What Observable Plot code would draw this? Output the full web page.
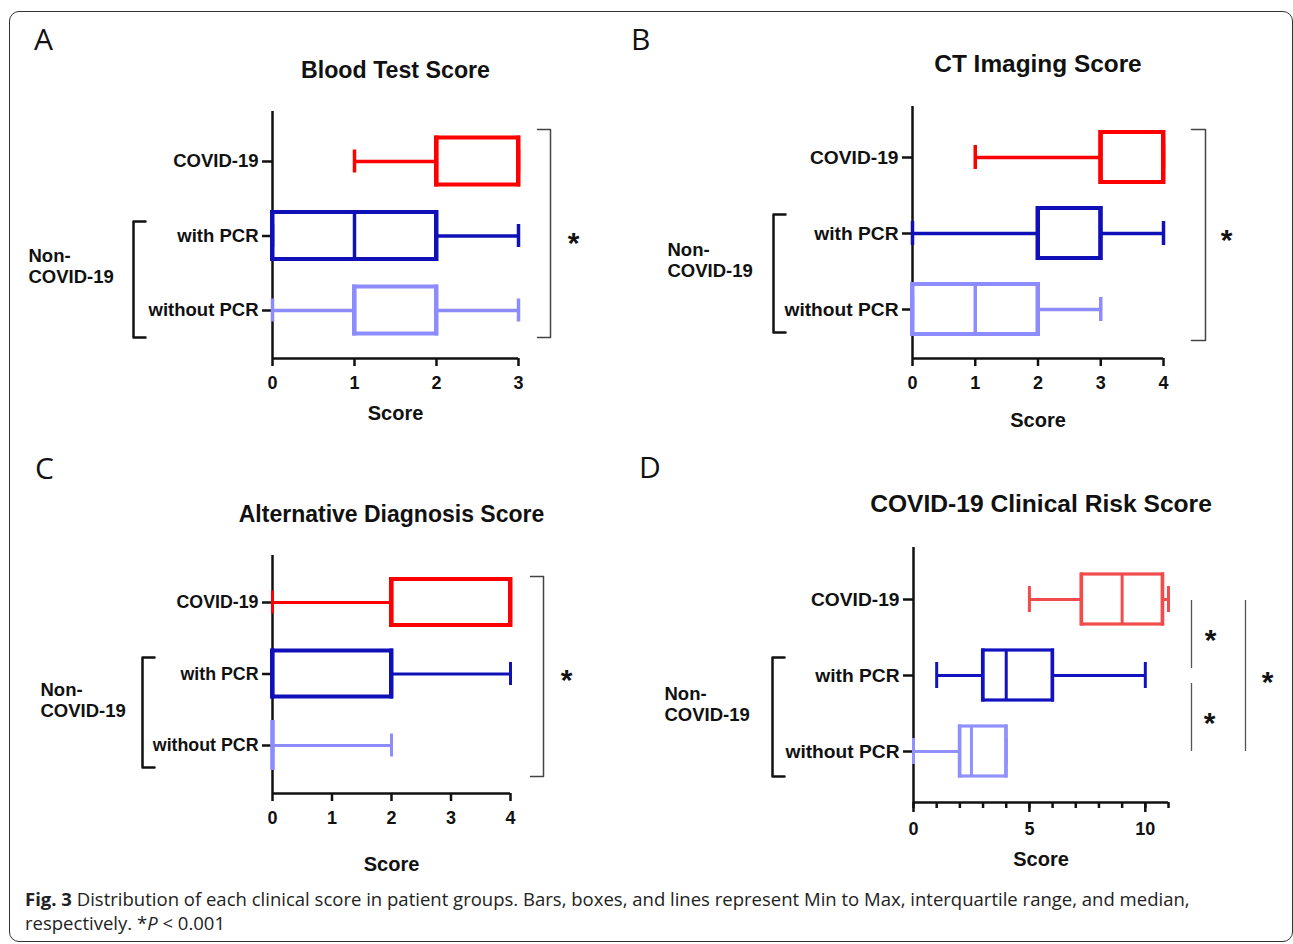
<!DOCTYPE html>
<html>
<head>
<meta charset="utf-8">
<script src="https://cdn.jsdelivr.net/npm/d3@7"></script>
<script src="https://cdn.jsdelivr.net/npm/@observablehq/plot@0.6"></script>
<style>
  html, body { margin: 0; padding: 0; background: #fff; }
  #page { position: relative; width: 1293px; height: 944px; overflow: hidden; background: #fff; }
  #page svg { position: absolute; left: 0; top: 0; }
  .frame { position: absolute; left: 9px; top: 11px; width: 1284px; height: 931px; border: 1.5px solid #333; border-radius: 10px; box-sizing: border-box; }
  .letter { position: absolute; font-family: "Open Sans", sans-serif; font-size: 30px; line-height: 30px; color: #111; }
  .caption { position: absolute; left: 25px; top: 887px; font-family: "Open Sans", sans-serif; font-size: 17px; line-height: 24px; color: #222; white-space: nowrap; }
  .caption span { display: inline-block; }
</style>
</head>
<body>
<div id="page"><div class="frame"></div></div>
<script>
// ---------------- data ----------------
const groups = ["COVID-19", "with PCR", "without PCR"];
const xLabel = "Score";
const groupLabel = "Non-\nCOVID-19";
const sigMark = "*";
const panelLetters = ["A", "B", "C", "D"];

// A: Blood Test Score
const bloodTitle = "Blood Test Score";
const bloodMin = [1, 0, 0];
const bloodQ1 = [2, 0, 1];
const bloodMedian = [2, 1, 1];
const bloodQ3 = [3, 2, 2];
const bloodMax = [3, 3, 3];
const bloodTicks = [0, 1, 2, 3];

// B: CT Imaging Score
const ctTitle = "CT Imaging Score";
const ctMin = [1, 0, 0];
const ctQ1 = [3, 2, 0];
const ctMedian = [3, 2, 1];
const ctQ3 = [4, 3, 2];
const ctMax = [4, 4, 3];
const ctTicks = [0, 1, 2, 3, 4];

// C: Alternative Diagnosis Score
const altTitle = "Alternative Diagnosis Score";
const altMin = [0, 0, 0];
const altQ1 = [2, 0, 0];
const altMedian = [2, 0, 0];
const altQ3 = [4, 2, 0];
const altMax = [4, 4, 2];
const altTicks = [0, 1, 2, 3, 4];

// D: COVID-19 Clinical Risk Score
const riskTitle = "COVID-19 Clinical Risk Score";
const riskMin = [5, 1, 0];
const riskQ1 = [7.25, 3, 2];
const riskMedian = [9, 4, 2.5];
const riskQ3 = [10.75, 6, 4];
const riskMax = [11, 10, 4];
const riskTicks = [0, 5, 10];
const riskMinorTicks = d3.range(0, 12);

const captionBold = "Fig. 3";
const captionLine1 = " Distribution of each clinical score in patient groups. Bars, boxes, and lines represent Min to Max, interquartile range, and median,";
const captionLine2 = "respectively. *<i>P</i> &lt; 0.001";

// ---------------- styles / layout ----------------
const W = 1293, H = 944;
const FONT = "Liberation Sans, Arial, Helvetica, sans-serif";
const colorsABC = ["#ff0000", "#1010b8", "#8c8cff"];
const colorsD = ["#f24b4b", "#1212c0", "#9090ff"];

const layoutA = {left: 272, right: 518, top: 111, bottom: 358, c: [161, 236, 310],
  boxH: 47, capH: 23, titleY: 70, scoreY: 413, tickSize: 8, tickPad: 10, titleSize: 23.2, labelSize: 18.5,
  lbr: {x: 133, y1: 221, y2: 337, arm: 12}, group: {x: 28, y: 265.5},
  rbr: [{x: 550, y1: 129, y2: 337, arm: -13}], sig: [], stars: [{x: 573, y: 240}],
  w: {box: 4, whisker: 3.5, cap: 3.5, median: 3.5}};
const layoutB = {left: 912, right: 1163, top: 106, bottom: 358, c: [157, 233, 309],
  boxH: 50, capH: 24, titleY: 64, scoreY: 420, tickSize: 8, tickPad: 10, titleSize: 24.4, labelSize: 19.2,
  lbr: {x: 773, y1: 214, y2: 332, arm: 12}, group: {x: 667, y: 259.5},
  rbr: [{x: 1205, y1: 129, y2: 340, arm: -14}], sig: [], stars: [{x: 1226, y: 237}],
  w: {box: 4, whisker: 3.5, cap: 3.5, median: 3.5}};
const layoutC = {left: 272, right: 510, top: 555, bottom: 793, c: [602, 673, 745],
  boxH: 46, capH: 23, titleY: 514, scoreY: 864, tickSize: 8, tickPad: 9.5, titleSize: 23, labelSize: 17.8,
  lbr: {x: 142, y1: 657, y2: 767, arm: 12}, group: {x: 40, y: 699},
  rbr: [{x: 543, y1: 576, y2: 776, arm: -13}], sig: [], stars: [{x: 566, y: 677}],
  w: {box: 4, whisker: 3, cap: 3, median: 3.5}};
const layoutD = {left: 913, right: 1168, top: 547, bottom: 802, c: [599, 675, 751],
  boxH: 50, capH: 26, titleY: 504, scoreY: 859, tickSize: 10, tickPad: 9.5, titleSize: 24.6, labelSize: 19.2,
  lbr: {x: 772, y1: 657, y2: 776, arm: 12}, group: {x: 664, y: 703},
  rbr: [], sig: [{x: 1191, y1: 600, y2: 668}, {x: 1191, y1: 683, y2: 751}, {x: 1245, y1: 600, y2: 751}],
  stars: [{x: 1210, y: 637}, {x: 1209, y: 720}, {x: 1267, y: 679}],
  w: {box: 3.2, whisker: 3, cap: 3, median: 3}};

function panel(cfg) {
  const L = cfg.layout;
  const [d0, d1] = cfg.xDomain;
  const kx = (d1 - d0) / (L.right - L.left);
  const step = (L.c[2] - L.c[0]) / 2;
  const X = v => d0 + (v - L.left) * kx;   // page px -> x data
  const Y = v => (v - L.c[0]) / step;      // page px -> y index
  const rows = groups.map((g, i) => ({i, g, min: cfg.min[i], q1: cfg.q1[i], med: cfg.median[i], q3: cfg.q3[i], max: cfg.max[i], color: cfg.colors[i]}));
  const hb = L.boxH / 2 / step, hc = L.capH / 2 / step, he = L.w.box / 2 / step;
  const bracket = b => [[b.x + b.arm, b.y1], [b.x, b.y1], [b.x, b.y2], [b.x + b.arm, b.y2]].map(([x, y]) => ({x: X(x), y: Y(y)}));
  const ink = "#111";
  const txt = {fontFamily: FONT, fontWeight: "bold", fill: ink};
  const marks = [
    // axes
    Plot.ruleX([d0], {stroke: ink, strokeWidth: 2.5}),
    Plot.ruleY([Y(L.bottom)], {stroke: ink, strokeWidth: 2.5}),
    Plot.axisY({ticks: [0, 1, 2], tickFormat: i => groups[i], tickSize: 10, tickPadding: 4,
      fontSize: L.labelSize, ...txt, strokeWidth: 2.5, stroke: ink, label: null}),
    cfg.minorTicks ? Plot.axisX({ticks: cfg.minorTicks, tickSize: 6, tickFormat: () => "", strokeWidth: 2.5, stroke: ink, label: null}) : null,
    Plot.axisX({ticks: cfg.ticks, tickFormat: d => String(d), tickSize: L.tickSize, tickPadding: L.tickPad, fontSize: 18, ...txt,
      strokeWidth: 2.5, stroke: ink, label: null}),
    // box plots
    Plot.ruleY(rows.filter(d => d.min < d.q1), {y: "i", x1: "min", x2: "q1", stroke: "color", strokeWidth: L.w.whisker}),
    Plot.ruleY(rows.filter(d => d.max > d.q3), {y: "i", x1: "q3", x2: "max", stroke: "color", strokeWidth: L.w.whisker}),
    Plot.ruleX(rows, {x: "min", y1: d => d.i - hc, y2: d => d.i + hc, stroke: "color", strokeWidth: L.w.cap}),
    Plot.ruleX(rows, {x: "max", y1: d => d.i - hc, y2: d => d.i + hc, stroke: "color", strokeWidth: L.w.cap}),
    Plot.rect(rows, {x1: "q1", x2: "q3", y1: d => d.i - hb, y2: d => d.i + hb, stroke: "color", fill: "none", strokeWidth: L.w.box}),
    Plot.ruleX(rows, {x: "q1", y1: d => d.i - hb - he, y2: d => d.i + hb + he, stroke: "color", strokeWidth: L.w.box}),
    Plot.ruleX(rows, {x: "q3", y1: d => d.i - hb - he, y2: d => d.i + hb + he, stroke: "color", strokeWidth: L.w.box}),
    Plot.ruleX(rows, {x: "med", y1: d => d.i - hb, y2: d => d.i + hb, stroke: "color", strokeWidth: L.w.median}),
    // titles
    Plot.text([cfg.title], {text: d => d, frameAnchor: "top", lineAnchor: "middle", dy: L.titleY - L.top, fontSize: L.titleSize, ...txt}),
    Plot.text([xLabel], {text: d => d, frameAnchor: "bottom", lineAnchor: "middle", dy: L.scoreY - L.bottom, fontSize: 20, ...txt}),
    // group annotation
    Plot.line(bracket(L.lbr), {x: "x", y: "y", stroke: ink, strokeWidth: 2.5}),
    Plot.text([groupLabel], {x: X(L.group.x), y: Y(L.group.y), text: d => d, textAnchor: "start", lineAnchor: "middle", lineHeight: 1.13,
      fontSize: 18.5, ...txt}),
    // significance
    ...L.rbr.map(b => Plot.line(bracket(b), {x: "x", y: "y", stroke: "#444", strokeWidth: 1.5})),
    Plot.ruleX(L.sig, {x: d => X(d.x), y1: d => Y(d.y1), y2: d => Y(d.y2), stroke: "#555", strokeWidth: 1.3}),
    Plot.text(L.stars, {x: d => X(d.x), y: d => Y(d.y), text: () => sigMark, fontSize: 30, ...txt, dy: 3})
  ].filter(Boolean);

  return Plot.plot({
    width: W, height: H,
    marginLeft: L.left, marginRight: W - L.right, marginTop: L.top, marginBottom: H - L.bottom,
    x: {domain: cfg.xDomain},
    y: {domain: [Y(L.top), Y(L.bottom)], range: [L.top, L.bottom]},
    color: {type: "identity"},
    style: {background: "transparent", fontFamily: FONT, overflow: "visible"},
    marks
  });
}

const page = document.getElementById("page");
const panels = [
  {title: bloodTitle, min: bloodMin, q1: bloodQ1, median: bloodMedian, q3: bloodQ3, max: bloodMax, ticks: bloodTicks, xDomain: [0, 3], colors: colorsABC, layout: layoutA},
  {title: ctTitle, min: ctMin, q1: ctQ1, median: ctMedian, q3: ctQ3, max: ctMax, ticks: ctTicks, xDomain: [0, 4], colors: colorsABC, layout: layoutB},
  {title: altTitle, min: altMin, q1: altQ1, median: altMedian, q3: altQ3, max: altMax, ticks: altTicks, xDomain: [0, 4], colors: colorsABC, layout: layoutC},
  {title: riskTitle, min: riskMin, q1: riskQ1, median: riskMedian, q3: riskQ3, max: riskMax, ticks: riskTicks, minorTicks: riskMinorTicks, xDomain: [0, 11], colors: colorsD, layout: layoutD}
];
for (const p of panels) page.appendChild(panel(p));

// panel letters
const letterPos = [[34, 24], [631, 24], [35, 453], [639, 452]];
panelLetters.forEach((t, i) => {
  const d = document.createElement("div");
  d.className = "letter";
  d.style.left = letterPos[i][0] + "px";
  d.style.top = letterPos[i][1] + "px";
  d.textContent = t;
  page.appendChild(d);
});

// caption (font size fitted so the first line matches the reference's line length)
const cap = document.createElement("div");
cap.className = "caption";
cap.innerHTML = `<span id="l1"><b>${captionBold}</b>${captionLine1}</span><br><span id="l2">${captionLine2}</span>`;
page.appendChild(cap);
const l1 = document.getElementById("l1");
const targetW = 1165;
const fs = 17 * targetW / l1.getBoundingClientRect().width;
cap.style.fontSize = fs.toFixed(2) + "px";
</script>
</body>
</html>
